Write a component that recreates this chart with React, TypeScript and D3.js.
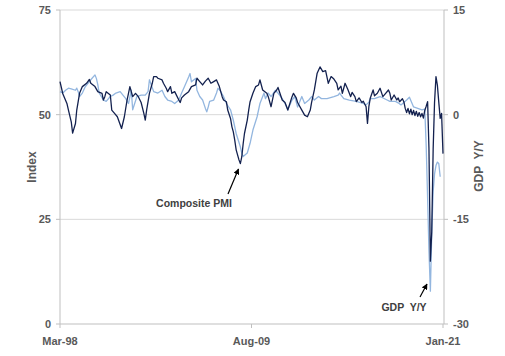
import React from "react";
import * as d3 from "d3";

const pmiDates = [
  "1998-03","1998-05","1998-08","1998-09","1998-11","1998-12","1999-02","1999-03","1999-05","1999-07",
  "1999-10","1999-12","2000-01","2000-04","2000-06","2000-09","2000-10","2000-11","2000-12","2001-03",
  "2001-04","2001-06","2001-08","2001-11","2002-01","2002-03","2002-05","2002-07","2002-09","2002-11",
  "2003-01","2003-03","2003-04","2003-05","2003-07","2003-09","2003-10","2003-12","2004-01","2004-04",
  "2004-05","2004-07","2004-08","2004-10","2004-11","2005-01","2005-04","2005-05","2005-06","2005-08",
  "2005-11","2006-01","2006-04","2006-05","2006-07","2006-09","2006-11","2007-01","2007-03","2007-05",
  "2007-07","2007-08","2007-09","2007-11","2007-12","2008-02","2008-03","2008-05","2008-06","2008-07",
  "2008-08","2008-09","2008-11","2008-12","2009-01","2009-02","2009-03","2009-05","2009-06","2009-07",
  "2009-09","2009-11","2010-01","2010-02","2010-04","2010-07","2010-08","2010-10","2010-12","2011-02",
  "2011-03","2011-06","2011-08","2011-10","2012-01","2012-02","2012-04","2012-05","2012-08","2012-10",
  "2012-12","2013-02","2013-03","2013-05","2013-07","2013-09","2013-11","2014-01","2014-03","2014-05",
  "2014-07","2014-09","2014-10","2014-12","2015-01","2015-03","2015-05","2015-07","2015-08","2015-10",
  "2015-11","2016-01","2016-03","2016-04","2016-06","2016-07","2016-08","2016-09","2016-11","2016-12",
  "2017-02","2017-04","2017-06","2017-08","2017-10","2017-11","2017-12","2018-02","2018-04","2018-05",
  "2018-06","2018-08","2018-09","2018-10","2018-11","2018-12","2019-01","2019-02","2019-03","2019-04",
  "2019-05","2019-06","2019-07","2019-08","2019-09","2019-10","2019-11","2019-12","2020-01","2020-02",
  "2020-03","2020-04","2020-05","2020-06","2020-07","2020-08","2020-09","2020-10","2020-11","2020-12",
  "2021-01",
];
const pmiValues = [
  57.9,55.0,52.6,51.1,48.3,45.6,47.9,51.1,55.1,56.7,
  57.5,58.4,57.5,56.7,55.5,55.1,53.5,54.3,55.5,54.7,
  51.1,50.3,49.5,46.7,49.5,53.5,56.7,54.3,55.1,54.3,
  52.9,50.3,48.7,51.1,55.1,57.5,59.1,59.1,58.7,58.3,
  57.5,56.3,55.5,56.7,55.1,55.5,53.5,52.9,54.0,54.7,
  55.5,56.7,57.1,58.7,57.9,57.1,58.0,58.7,57.5,57.9,
  58.3,57.5,56.7,54.3,53.5,53.1,51.1,49.1,47.1,45.9,
  43.9,41.6,39.2,38.3,39.9,43.1,45.5,48.7,51.1,53.1,
  55.1,56.7,57.1,58.3,55.9,55.1,54.3,51.9,55.1,55.9,
  56.5,53.5,52.9,51.1,54.3,55.1,54.0,52.9,51.1,49.9,
  49.5,51.1,52.9,55.9,59.9,61.4,60.3,60.5,57.5,59.1,
  58.5,57.5,55.9,56.8,55.1,57.5,56.0,54.3,55.3,54.3,
  53.1,54.0,52.9,53.2,51.9,47.9,52.0,54.0,55.9,54.5,
  55.1,56.3,54.3,55.1,55.9,55.1,53.5,54.7,53.5,54.0,
  53.1,53.8,53.1,51.5,50.5,51.5,50.2,51.3,50.0,51.0,
  49.8,50.8,49.6,50.5,49.5,50.3,49.2,51.0,52.0,53.1,
  42.0,15.0,22.0,42.0,53.0,59.1,57.0,53.0,49.1,50.3,
  40.7,
];

const gdpDates = [
  "1998-03","1998-05","1998-07","1998-09","1998-11","1999-02","1999-03","1999-04","1999-05","1999-07",
  "1999-09","1999-11","2000-01","2000-04","2000-05","2000-06","2000-07","2000-10","2000-12","2001-03",
  "2001-05","2001-07","2001-10","2001-12","2002-02","2002-04","2002-06","2002-07","2002-10","2003-01",
  "2003-04","2003-06","2003-07","2003-10","2004-01","2004-04","2004-06","2004-08","2004-11","2005-01",
  "2005-04","2005-06","2005-08","2005-11","2005-12","2006-01","2006-04","2006-05","2006-07","2006-09",
  "2006-11","2006-12","2007-01","2007-02","2007-05","2007-07","2007-08","2007-10","2007-12","2008-02",
  "2008-05","2008-07","2008-09","2008-12","2009-01","2009-02","2009-05","2009-07","2009-09","2009-12",
  "2010-02","2010-05","2010-06","2010-08","2010-10","2011-01","2011-03","2011-06","2011-08","2011-10",
  "2012-01","2012-03","2012-05","2012-08","2012-10","2013-01","2013-03","2013-05","2013-08","2013-10",
  "2014-02","2014-07","2014-10","2014-11","2015-02","2015-06","2015-11","2016-04","2016-06","2016-08",
  "2016-09","2016-12","2017-04","2017-09","2017-11","2018-03","2018-05","2018-07","2018-11","2019-01",
  "2019-04","2019-07","2019-10","2019-12","2020-01","2020-02","2020-03","2020-04","2020-05","2020-06",
  "2020-07","2020-08","2020-09","2020-10","2020-11",
];
const gdpValues = [
  3.3,3.1,3.5,3.8,3.7,3.5,3.8,3.3,2.6,3.1,
  4.0,4.5,5.0,5.7,5.2,4.3,3.1,2.1,1.9,2.6,
  2.8,3.1,3.3,2.8,2.3,1.6,3.5,0.7,2.6,2.8,
  2.8,3.3,5.0,3.3,3.1,3.5,2.6,2.1,1.9,1.6,
  2.1,3.1,4.0,5.4,5.9,4.7,5.2,3.5,2.6,2.1,
  0.9,0.4,1.1,1.9,2.1,3.1,3.8,3.3,2.6,1.6,
  0.7,-0.8,-2.7,-4.6,-5.5,-6.0,-5.5,-4.1,-2.2,-0.3,
  1.6,3.1,2.3,3.1,2.6,3.5,3.1,2.3,1.6,0.7,
  2.1,2.6,1.1,2.6,1.6,2.1,2.6,2.1,2.6,2.3,
  2.3,2.6,2.8,3.1,2.3,2.1,1.9,1.6,1.4,1.8,
  2.3,2.3,2.6,2.1,1.9,1.9,1.7,1.4,2.1,2.5,
  1.1,0.9,0.7,0.8,-4.5,-12.0,-19.5,-25.3,-17.0,-11.0,
  -8.5,-7.3,-6.8,-7.0,-8.9,
];

const leftTicks = [0, 25, 50, 75];
const rightTicks = [-30, -15, 0, 15];
const xTickDates = ["1998-03", "2009-08", "2021-01"];
const xTickLabels = ["Mar-98", "Aug-09", "Jan-21"];

const parse = d3.timeParse("%Y-%m");

export default function App() {
  const W = 505, H = 356;
  const left = 60, right = 444, top = 10, bottom = 324;
  const x = d3.scaleTime()
    .domain([parse("1998-03")!, parse("2021-01")!])
    .range([left, 443]);
  const yL = d3.scaleLinear().domain([0, 75]).range([bottom, top]);
  const yR = d3.scaleLinear().domain([-30, 15]).range([bottom, top]);

  const pmi = pmiDates.map((d, i) => ({ d: parse(d)!, v: pmiValues[i] }));
  const gdp = gdpDates.map((d, i) => ({ d: parse(d)!, v: gdpValues[i] }));

  const pmiLine = d3.line<{ d: Date; v: number }>().x(p => x(p.d)).y(p => yL(p.v))(pmi) || "";
  const gdpLine = d3.line<{ d: Date; v: number }>().x(p => x(p.d)).y(p => yR(p.v))(gdp) || "";

  const font = "'Liberation Sans', Arial, sans-serif";
  const textColor = "#595959";
  const grid = "#d9d9d9";
  const axis = "#bfbfbf";

  return (
    <svg width={W} height={H} style={{ position: "absolute", left: 0, top: 0, background: "#fff" }}
      fontFamily={font}>
      <defs>
        <marker id="ah" viewBox="0 0 10 10" refX="9" refY="5" markerWidth="5" markerHeight="5" orient="auto">
          <path d="M0,0 L10,5 L0,10 z" fill="#000" />
        </marker>
      </defs>
      {leftTicks.filter(t => t > 0).map(t => (
        <line key={"g" + t} x1={left} x2={right} y1={yL(t)} y2={yL(t)} stroke={grid} strokeWidth={1} />
      ))}
      <line x1={left} x2={right} y1={bottom} y2={bottom} stroke={axis} strokeWidth={1} />
      <line x1={left} x2={left} y1={top} y2={bottom} stroke={axis} strokeWidth={1} />
      <line x1={right} x2={right} y1={top} y2={bottom} stroke={axis} strokeWidth={1} />
      {leftTicks.map(t => (
        <g key={"l" + t}>
          <line x1={left - 4} x2={left} y1={yL(t)} y2={yL(t)} stroke={axis} />
          <text x={51} y={yL(t)} dy="0.35em" textAnchor="end" fontSize={11} fontWeight="bold" fill={textColor}>{t}</text>
        </g>
      ))}
      {rightTicks.map(t => (
        <g key={"r" + t}>
          <line x1={right} x2={right + 4} y1={yR(t)} y2={yR(t)} stroke={axis} />
          <text x={453} y={yR(t)} dy="0.35em" textAnchor="start" fontSize={11} fontWeight="bold" fill={textColor}>{t}</text>
        </g>
      ))}
      {xTickDates.map((d, i) => (
        <g key={"x" + d}>
          <line x1={x(parse(d)!)} x2={x(parse(d)!)} y1={bottom} y2={bottom + 4} stroke={axis} />
          <text x={x(parse(d)!)} y={345} textAnchor="middle" fontSize={11} fontWeight="bold" fill={textColor}>{xTickLabels[i]}</text>
        </g>
      ))}
      <text transform="translate(36,167) rotate(-90)" textAnchor="middle" fontSize={12} fontWeight="bold" fill={textColor}>Index</text>
      <text transform="translate(483,166) rotate(-90)" textAnchor="middle" fontSize={12} fontWeight="bold" fill={textColor} style={{ whiteSpace: "pre" }}>{"GDP  Y/Y"}</text>

      <path d={gdpLine} fill="none" stroke="#93b6df" strokeWidth={1.3} strokeLinejoin="round" />
      <path d={pmiLine} fill="none" stroke="#13214f" strokeWidth={1.3} strokeLinejoin="round" />

      <line x1={228} y1={194} x2={238.5} y2={169} stroke="#000" strokeWidth={1.2} markerEnd="url(#ah)" />
      <text x={194} y={207} textAnchor="middle" fontSize={10.5} fontWeight="bold" fill="#404040">Composite PMI</text>
      <line x1={420} y1={297} x2={427} y2={284} stroke="#000" strokeWidth={1.2} markerEnd="url(#ah)" />
      <text x={404} y={311} textAnchor="middle" fontSize={10.5} fontWeight="bold" fill="#404040" style={{ whiteSpace: "pre" }}>{"GDP  Y/Y"}</text>
    </svg>
  );
}
